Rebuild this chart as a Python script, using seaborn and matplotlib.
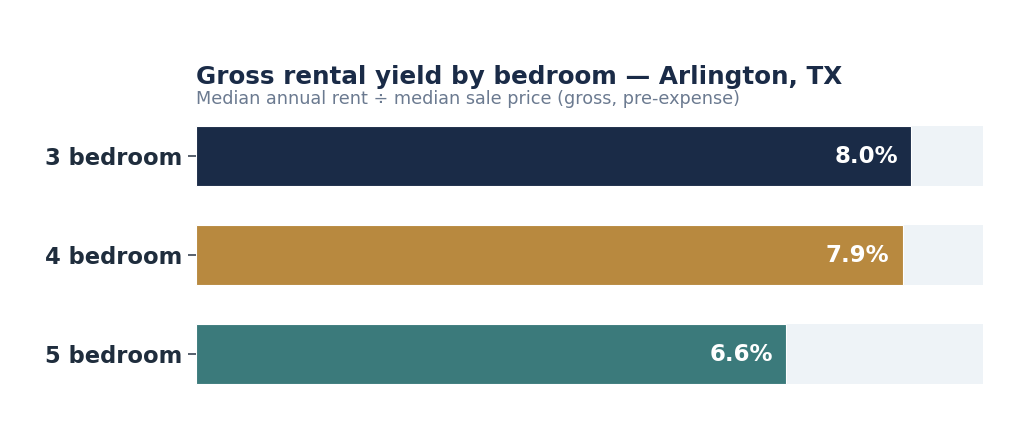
import matplotlib
matplotlib.use("Agg")
import matplotlib.pyplot as plt
import seaborn as sns
import pandas as pd

categories = ["3 bedroom", "4 bedroom", "5 bedroom"]
yields = [8.0, 7.9, 6.6]
bar_colors = ["#1A2B47", "#B8893F", "#3B7A7B"]
track_max = 8.8
title = "Gross rental yield by bedroom — Arlington, TX"
subtitle = "Median annual rent ÷ median sale price (gross, pre-expense)"

FONT = "DejaVu Sans"
sns.set_theme(style="white")
plt.rcParams["font.family"] = [FONT]
plt.rcParams["font.sans-serif"] = [FONT]

df = pd.DataFrame({"bedroom": categories, "yield": yields,
                   "track": [track_max] * len(categories)})

fig = plt.figure(figsize=(10.24, 4.29), dpi=100)
ax = fig.add_axes([0.1914, 0.0594, 0.7686, 0.6923])

sns.barplot(data=df, x="track", y="bedroom", orient="h", color="#EEF3F7",
            width=0.6, ax=ax, saturation=1, linewidth=0)
sns.barplot(data=df, x="yield", y="bedroom", orient="h", hue="bedroom",
            palette=dict(zip(categories, bar_colors)), legend=False,
            width=0.6, ax=ax, saturation=1, edgecolor="white", linewidth=0.8)

for i, v in enumerate(yields):
    ax.annotate(f"{v:.1f}%", xy=(v, i), xytext=(-9.5, 0), textcoords="offset points",
                ha="right", va="center", color="white", fontsize=16.5, fontweight="bold",
                family=FONT)

ax.set_xlim(0, track_max)
ax.set_ylim(2.5, -0.5)
ax.set_xlabel("")
ax.set_ylabel("")
ax.set_xticks([])
for s in ax.spines.values():
    s.set_visible(False)
ax.tick_params(axis="y", left=True, length=5.5, width=1.1, color="#2A3545", pad=4.5)
for lbl in ax.get_yticklabels():
    lbl.set_fontsize(16.3)
    lbl.set_fontweight("bold")
    lbl.set_color("#1F2D3D")
    lbl.set_family(FONT)

fig.text(0.1914, 0.8035, title, fontsize=17.7, fontweight="bold", color="#1A2B47",
         ha="left", va="baseline", family=FONT)
fig.text(0.1914, 0.7583, subtitle, fontsize=12.7, color="#6B7A90",
         ha="left", va="baseline", family=FONT)

fig.savefig("out.png", dpi=100, facecolor="white")
